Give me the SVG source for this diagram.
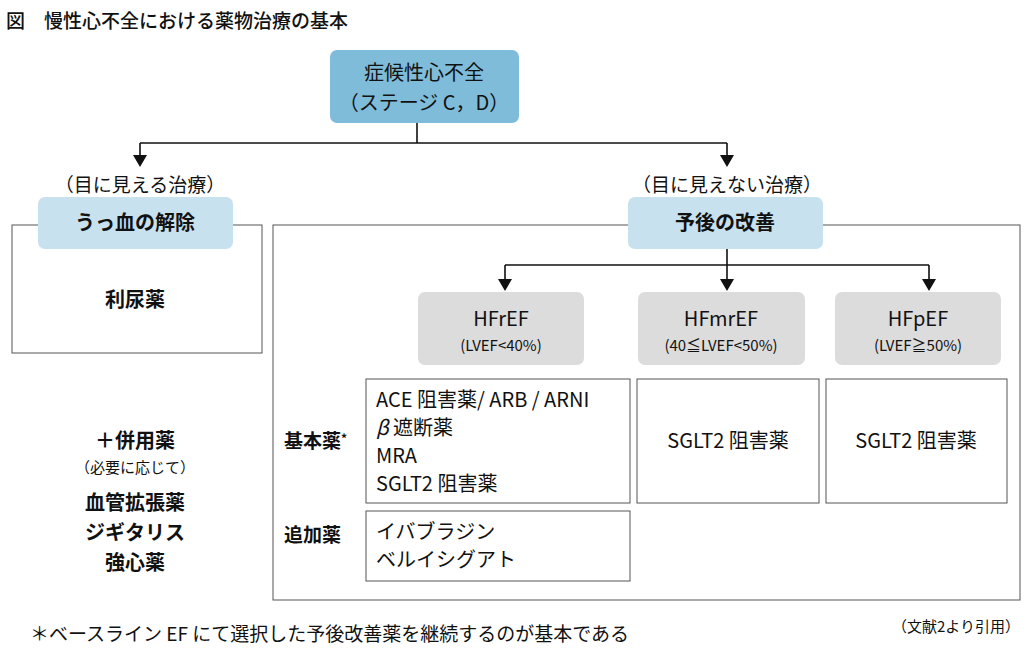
<svg xmlns="http://www.w3.org/2000/svg" width="1035" height="656" viewBox="0 0 1035 656">
<style>
text{font-family:"Noto Sans CJK JP","Noto Sans",sans-serif;fill:#111}
.c{text-anchor:middle}
.b{font-weight:bold}
.f18{font-size:20px}.f17{font-size:19px}.f14{font-size:15px}
.out{fill:#fff;stroke:#555;stroke-width:1}
.gray{fill:#dcdcdc}
.ln{stroke:#111;stroke-width:1.6;fill:none}
.ah{fill:#111}
</style>
<rect width="1035" height="656" fill="#fff"/>
<text x="6" y="28" style="font-size:19px;font-weight:500">図　慢性心不全における薬物治療の基本</text>
<g id="outer-left"><rect class="out" x="12" y="225" width="250" height="128"/><text x="135" y="307" class="c f18 b">利尿薬</text></g>
<g id="outer-right"><rect class="out" x="273" y="225" width="747" height="375"/></g>
<g id="connectors">
<path class="ln" d="M417,123V143M140,143H727M140,143V156M727,143V156"/>
<path class="ah" d="M133,155H147L140,167z M720,155H734L727,167z"/>
<path class="ln" d="M727,249V265M505,265H929M505,265V280M727,265V280M929,265V280"/>
<path class="ah" d="M498,279H512L505,291z M720,279H734L727,291z M922,279H936L929,291z"/>
</g>
<g id="top"><rect x="330" y="50" width="189" height="73" rx="7" fill="#7fbcd9"/><text x="424" y="80" class="c f18">症候性心不全</text><text x="424" y="110" class="c f18">（ステージ C，D）</text></g>
<text x="140" y="192" class="c f17">（目に見える治療）</text>
<text x="727" y="192" class="c f17">（目に見えない治療）</text>
<g id="congestion"><rect x="38" y="197" width="195" height="52" rx="7" fill="#c7e1ee"/><text x="135" y="230" class="c f18 b">うっ血の解除</text></g>
<g id="prognosis"><rect x="628" y="197" width="195" height="52" rx="7" fill="#c7e1ee"/><text x="725" y="230" class="c f18 b">予後の改善</text></g>
<g id="hfref"><rect class="gray" x="418" y="292" width="166" height="73" rx="7"/><text x="501" y="326" class="c f18">HFrEF</text><text x="501" y="351" class="c f14">(LVEF&lt;40%)</text></g>
<g id="hfmref"><rect class="gray" x="638" y="292" width="167" height="73" rx="7"/><text x="721" y="326" class="c f18">HFmrEF</text><text x="721" y="351" class="c f14">(40≦LVEF&lt;50%)</text></g>
<g id="hfpef"><rect class="gray" x="835" y="292" width="166" height="73" rx="7"/><text x="918" y="326" class="c f18">HFpEF</text><text x="918" y="351" class="c f14">(LVEF≧50%)</text></g>
<g id="basic-ref"><rect class="out" x="366" y="379" width="264" height="124"/>
<text x="376" y="407" class="f18">ACE 阻害薬/ ARB / ARNI</text><text x="376" y="435" class="f18"><tspan font-style="italic">β</tspan> 遮断薬</text><text x="376" y="463" class="f18">MRA</text><text x="376" y="491" class="f18">SGLT2 阻害薬</text></g>
<g id="basic-mr"><rect class="out" x="637" y="379" width="182" height="124"/><text x="728" y="448" class="c f18">SGLT2 阻害薬</text></g>
<g id="basic-p"><rect class="out" x="826" y="379" width="181" height="124"/><text x="916" y="448" class="c f18">SGLT2 阻害薬</text></g>
<g id="add"><rect class="out" x="366" y="511" width="264" height="70"/><text x="376" y="539" class="f18">イバブラジン</text><text x="376" y="567" class="f18">ベルイシグアト</text></g>
<text x="284" y="448" class="f17 b">基本薬<tspan font-size="12" dy="-5">*</tspan></text>
<text x="284" y="542" class="f17 b">追加薬</text>
<g id="combo">
<text x="135" y="448" class="c f18 b">＋併用薬</text>
<text x="135" y="473" class="c f14">（必要に応じて）</text>
<text x="135" y="510" class="c f18 b">血管拡張薬</text>
<text x="135" y="540" class="c f18 b">ジギタリス</text>
<text x="135" y="570" class="c f18 b">強心薬</text>
</g>
<text x="30" y="641" class="f17">＊ベースライン EF にて選択した予後改善薬を継続するのが基本である</text>
<text x="1020" y="632" class="f14" text-anchor="end">（文献2より引用）</text>
</svg>
